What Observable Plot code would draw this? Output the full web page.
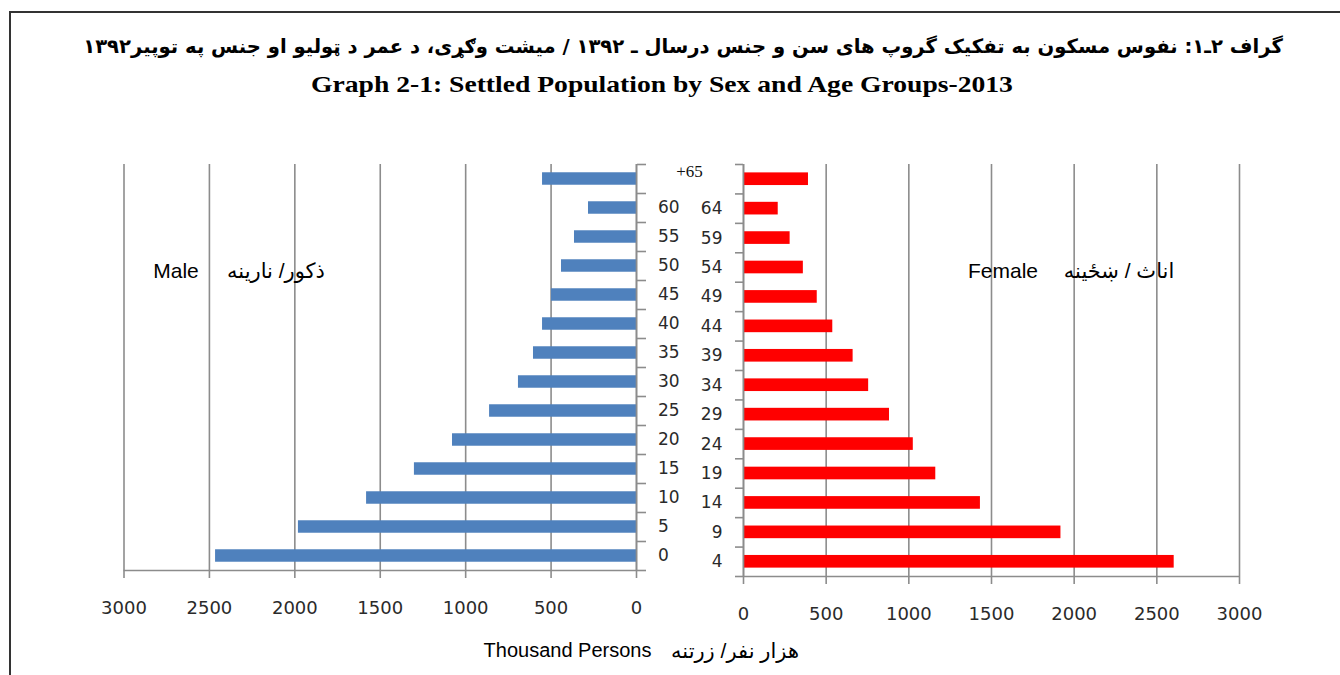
<!DOCTYPE html>
<html><head><meta charset="utf-8">
<script src="https://cdn.jsdelivr.net/npm/d3@7"></script>
<script src="https://cdn.jsdelivr.net/npm/@observablehq/plot@0.6"></script>
<style>
body{margin:0;background:#fff;}
#page{position:relative;width:1340px;height:675px;overflow:hidden;background:#fff;}
#frame{position:absolute;left:9px;top:11px;width:1400px;height:700px;border-top:2px solid #333;border-left:2px solid #333;}
.abs{position:absolute;white-space:nowrap;line-height:1;transform:translate(-50%,-50%);color:#000;}
.lbl{font-family:"Liberation Sans",Arial,"DejaVu Sans",sans-serif;font-size:21px;}
.plotbox{position:absolute;top:0;}
</style></head><body>
<div id="page">
  <div id="frame"></div>
  <div id="t1" class="abs" dir="rtl" style="left:683px;top:47px;font-family:'DejaVu Sans',sans-serif;font-weight:bold;font-size:19.6px;">گراف ۲ـ۱: نفوس مسکون به تفکیک گروپ های سن و جنس درسال ـ ۱۳۹۲ / میشت وګړی، د عمر د ټولیو او جنس په توپیر۱۳۹۲</div>
  <div id="t2" class="abs" style="left:661.5px;top:84px;font-family:'Liberation Serif',serif;font-weight:bold;font-size:24px;transform:translate(-50%,-50%) scaleX(1.15);">Graph 2-1: Settled Population by Sex and Age Groups-2013</div>
  <div id="leftPlot" class="plotbox" style="left:0px;"></div>
  <div id="rightPlot" class="plotbox" style="left:680px;"></div>
  <div class="abs lbl" style="left:176px;top:270px;">Male</div>
  <div class="abs lbl" dir="rtl" style="left:276px;top:270px;">ذکور/ نارینه</div>
  <div class="abs lbl" style="left:1003px;top:270px;">Female</div>
  <div class="abs lbl" dir="rtl" style="left:1119px;top:270px;">اناث / ښځینه</div>
  <div class="abs lbl" style="left:567.5px;top:650px;font-size:20px;">Thousand Persons</div>
  <div class="abs lbl" dir="rtl" style="left:735px;top:650px;font-size:21px;">هزار نفر/ زرتنه</div>
</div>
<script>
// ---- data ----
const ageGroups = ["0-4","5-9","10-14","15-19","20-24","25-29","30-34","35-39","40-44","45-49","50-54","55-59","60-64","65+"];
const ageFrom = ["0","5","10","15","20","25","30","35","40","45","50","55","60",""];
const ageTo   = ["4","9","14","19","24","29","34","39","44","49","54","59","64",""];
const topLabel = "+65";
const male   = [2464,1979,1580,1300,1077,860,691,603,550,498,439,363,281,550];
const female = [2605,1920,1433,1163,1027,883,757,663,540,446,362,282,210,393];
const xTicks = [0,500,1000,1500,2000,2500,3000];

// ---- build ----
const rows = ageGroups.map((g, i) => ({group: g, i, male: male[i], female: female[i]}));
const idx = ageGroups.map((_, i) => i);
const bounds = d3.range(ageGroups.length + 1).map(i => i - 0.5);
const yDomain = [-0.5, ageGroups.length - 0.5];
const half = 0.215;
const gridColor = "#8c8c8c";
const textColor = "#2a2a2a";
const tickFont = "DejaVu Sans";
const fmt = d => String(d);

const leftChart = Plot.plot({
  width: 700, height: 675,
  marginTop: 164, marginBottom: 105, marginLeft: 123.5, marginRight: 64,
  style: {background: "transparent", fontFamily: tickFont, overflow: "visible"},
  x: {domain: [0, 3000], reverse: true},
  y: {domain: yDomain},
  marks: [
    Plot.gridX({ticks: xTicks, stroke: gridColor, strokeOpacity: 1, strokeWidth: 1.6}),
    Plot.rect(rows, {x1: 0, x2: "male", y1: d => d.i - half, y2: d => d.i + half, fill: "#4F81BD"}),
    Plot.ruleY([yDomain[0]], {stroke: gridColor, strokeWidth: 1.6}),
    Plot.ruleX([0], {stroke: gridColor, strokeWidth: 1.6}),
    Plot.axisX({ticks: xTicks, tickFormat: fmt, tickSize: 8, tickPadding: 23, fontSize: 18, stroke: gridColor, strokeWidth: 1.6, fill: textColor, label: null}),
    Plot.axisY({anchor: "right", ticks: bounds, tickSize: 9, tickFormat: () => "", stroke: gridColor, strokeWidth: 1.6, label: null}),
    Plot.axisY({anchor: "right", ticks: idx, tickSize: 0, tickPadding: 21.5, tickFormat: i => ageFrom[i], fontSize: 17, fill: textColor, label: null}),
    Plot.text([topLabel], {y: () => ageGroups.length - 1, frameAnchor: "right", dx: 53, dy: -7.5, textAnchor: "middle", fontFamily: "Liberation Serif", fontSize: 17, fill: "#111"})
  ]
});
document.getElementById("leftPlot").appendChild(leftChart);

const rightChart = Plot.plot({
  width: 660, height: 675,
  marginTop: 164, marginBottom: 99, marginLeft: 63, marginRight: 101,
  style: {background: "transparent", fontFamily: tickFont, overflow: "visible"},
  x: {domain: [0, 3000]},
  y: {domain: yDomain},
  marks: [
    Plot.gridX({ticks: xTicks, stroke: gridColor, strokeOpacity: 1, strokeWidth: 1.6}),
    Plot.rect(rows, {x1: 0, x2: "female", y1: d => d.i - half, y2: d => d.i + half, fill: "#FF0000"}),
    Plot.ruleY([yDomain[0]], {stroke: gridColor, strokeWidth: 1.6}),
    Plot.ruleX([0], {stroke: gridColor, strokeWidth: 1.6}),
    Plot.axisX({ticks: xTicks, tickFormat: fmt, tickSize: 8, tickPadding: 23, fontSize: 18, stroke: gridColor, strokeWidth: 1.6, fill: textColor, label: null}),
    Plot.axisY({anchor: "left", ticks: bounds, tickSize: 8, tickFormat: () => "", stroke: gridColor, strokeWidth: 1.6, label: null}),
    Plot.axisY({anchor: "left", ticks: idx, tickSize: 0, tickPadding: 21, tickFormat: i => ageTo[i], fontSize: 17, fill: textColor, label: null})
  ]
});
document.getElementById("rightPlot").appendChild(rightChart);
</script>
</body></html>
